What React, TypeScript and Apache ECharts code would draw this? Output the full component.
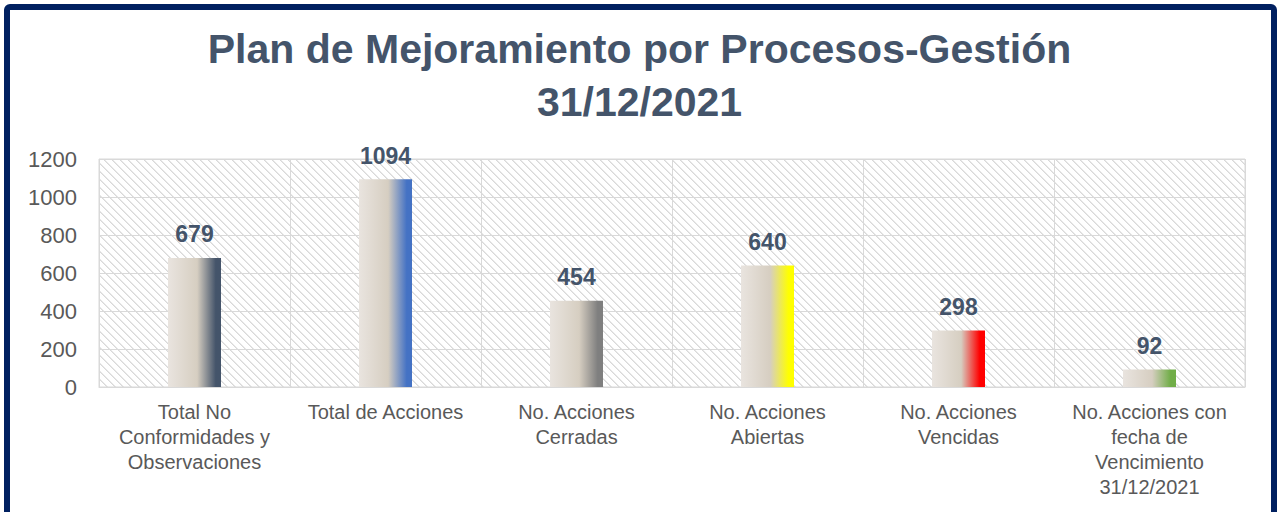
import React, { useEffect, useRef } from "react";
import * as echarts from "echarts";

const categories = [
  "Total No\nConformidades y\nObservaciones",
  "Total de Acciones",
  "No. Acciones\nCerradas",
  "No. Acciones\nAbiertas",
  "No. Acciones\nVencidas",
  "No. Acciones con\nfecha de\nVencimiento\n31/12/2021",
];
const values = [679, 1094, 454, 640, 298, 92];
const barColors = ["#44546A", "#4472C4", "#7F7F7F", "#FFFF00", "#FF0000", "#70AD47"];
const titleText = "Plan de Mejoramiento por Procesos-Gestión\n31/12/2021";

function makePattern(): string {
  const c = document.createElement("canvas");
  c.width = 8;
  c.height = 8;
  const ctx = c.getContext("2d")!;
  ctx.fillStyle = "#ffffff";
  ctx.fillRect(0, 0, 8, 8);
  for (let i = 0; i < 8; i++) {
    ctx.fillStyle = "#D9D9D9";
    ctx.fillRect(i, i, 1, 1);
    ctx.fillStyle = "#E8E8E8";
    ctx.fillRect((i + 1) % 8, i, 1, 1);
  }
  return c.toDataURL();
}

export default function App() {
  const ref = useRef<HTMLDivElement>(null);
  useEffect(() => {
    const chart = echarts.init(ref.current!, undefined, { renderer: "svg" });
    const pattern = { image: makePattern(), repeat: "repeat" };
    chart.setOption({
      animation: false,
      backgroundColor: "#ffffff",
      title: {
        text: titleText,
        left: "center",
        top: 17,
        textStyle: {
          fontFamily: "Liberation Sans, Arial, sans-serif",
          fontSize: 41,
          fontWeight: "bold",
          color: "#44546A",
          lineHeight: 53,
        },
      },
      graphic: [
        {
          type: "rect",
          shape: { x: 7, y: 7, width: 1267, height: 530, r: 3 },
          style: { fill: "none", stroke: "#002060", lineWidth: 6 },
          z: 100,
        },
      ],
      grid: {
        left: 99,
        right: 34,
        top: 159,
        bottom: 125,
        show: true,
        backgroundColor: pattern,
        borderColor: "#D9D9D9",
        borderWidth: 1,
      },
      xAxis: {
        type: "category",
        data: categories,
        axisLine: { show: true, lineStyle: { color: "#D9D9D9", width: 1 } },
        axisTick: { show: false },
        splitLine: { show: true, interval: 0, lineStyle: { color: "#D9D9D9", width: 1 } },
        axisLabel: {
          interval: 0,
          margin: 12,
          fontFamily: "Liberation Sans, Arial, sans-serif",
          fontSize: 20,
          lineHeight: 25,
          color: "#595959",
        },
      },
      yAxis: {
        type: "value",
        min: 0,
        max: 1200,
        interval: 200,
        axisLine: { show: false },
        axisTick: { show: false },
        splitLine: { show: true, lineStyle: { color: "#D9D9D9", width: 1 } },
        axisLabel: {
          margin: 22,
          formatter: (v: number) => String(v),
          fontFamily: "Liberation Sans, Arial, sans-serif",
          fontSize: 22,
          color: "#595959",
        },
      },
      series: [
        {
          type: "bar",
          barWidth: 53,
          data: values.map((v, i) => ({
            value: v,
            itemStyle: {
              color: new echarts.graphic.LinearGradient(0, 0, 1, 0, [
                { offset: 0, color: "#E9E4DF" },
                { offset: 0.55, color: "#D6CEC1" },
                { offset: 0.9, color: barColors[i] },
                { offset: 1, color: barColors[i] },
              ]),
            },
          })),
          label: {
            show: true,
            position: "top",
            distance: 12,
            fontFamily: "Liberation Sans, Arial, sans-serif",
            fontSize: 23,
            fontWeight: "bold",
            color: "#44546A",
          },
        },
      ],
    });
    return () => chart.dispose();
  }, []);
  return (
    <div
      ref={ref}
      style={{ position: "absolute", left: 0, top: 0, width: 1279, height: 512 }}
    />
  );
}
